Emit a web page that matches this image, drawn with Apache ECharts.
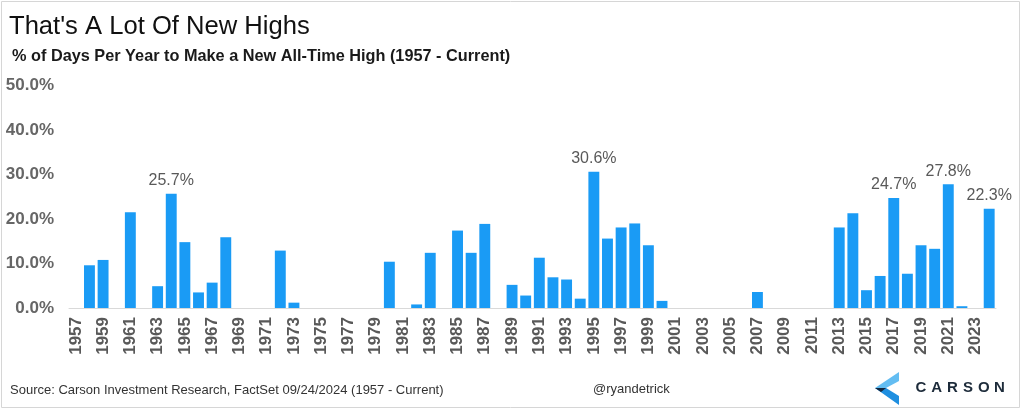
<!DOCTYPE html>
<html>
<head>
<meta charset="utf-8">
<title>That's A Lot Of New Highs</title>
<script src="https://cdn.jsdelivr.net/npm/echarts@6/dist/echarts.min.js"></script>
<style>
  html, body { margin: 0; padding: 0; background: #fff; }
  #chart { width: 1024px; height: 410px; }
</style>
</head>
<body>
<div id="chart"></div>
<script>
// years 1957 - 2024
var years = [];
for (var y = 1957; y <= 2024; y++) years.push(String(y));

// % of trading days at a new all-time high
var pctHighs = [
  0, 9.6, 10.8, 0, 21.5, 0, 4.9, 25.7, 14.8, 3.5,      // 1957-1966
  5.7, 15.9, 0, 0, 0, 12.9, 1.2, 0, 0, 0,              // 1967-1976
  0, 0, 0, 10.4, 0, 0.8, 12.4, 0, 17.4, 12.4,          // 1977-1986
  18.9, 0, 5.2, 2.8, 11.3, 6.9, 6.4, 2.1, 30.6, 15.6,  // 1987-1996
  18.1, 19.0, 14.1, 1.6, 0, 0, 0, 0, 0, 0,             // 1997-2006
  3.6, 0, 0, 0, 0, 0, 18.1, 21.3, 4.0, 7.2,            // 2007-2016
  24.7, 7.7, 14.1, 13.3, 27.8, 0.4, 0, 22.3            // 2017-2024
];

// years that carry a value label
var labelledYears = ['1964', '1995', '2017', '2021', '2024'];

var dom = document.getElementById('chart');
var myChart = echarts.init(dom);

var barData = pctHighs.map(function(v, i) {
  var item = { value: v };
  if (labelledYears.indexOf(years[i]) >= 0) {
    item.label = { show: true };
  }
  return item;
});

// carson logo letters
var logoLetters = 'CARSON'.split('').map(function(ch, i) {
  return {
    type: 'text',
    x: 921 + i * 15.7,
    y: 388,
    style: {
      text: ch,
      fill: '#1d2b3a',
      font: '600 15px "Liberation Sans", Arial, sans-serif',
      textAlign: 'center',
      textVerticalAlign: 'middle'
    }
  };
});

var option = {
  animation: false,
  backgroundColor: '#ffffff',
  grid: {
    left: 69,
    right: 28,
    top: 85.5,
    bottom: 102,
    containLabel: false
  },
  xAxis: {
    type: 'category',
    data: years,
    axisTick: { show: false },
    axisLine: { lineStyle: { color: '#d9d9d9', width: 1 } },
    axisLabel: {
      interval: 1,
      rotate: 90,
      margin: 9,
      color: '#595959',
      fontWeight: 'bold',
      fontSize: 17,
      fontFamily: '"Liberation Sans", Arial, sans-serif'
    }
  },
  yAxis: {
    type: 'value',
    min: 0,
    max: 50,
    interval: 10,
    splitLine: { show: false },
    axisLine: { show: false },
    axisTick: { show: false },
    axisLabel: {
      margin: 15,
      color: '#666666',
      fontWeight: 'bold',
      fontSize: 17,
      fontFamily: '"Liberation Sans", Arial, sans-serif',
      formatter: function(v) { return v.toFixed(1) + '%'; }
    }
  },
  series: [{
    type: 'bar',
    data: barData,
    barCategoryGap: '20%',
    itemStyle: { color: '#1a9bf5' },
    label: {
      show: false,
      position: 'top',
      distance: 5,
      color: '#595959',
      fontSize: 16,
      fontFamily: '"Liberation Sans", Arial, sans-serif',
      formatter: function(p) { return p.value.toFixed(1) + '%'; }
    }
  }],
  graphic: [
    {
      type: 'rect',
      shape: { x: 1.5, y: 1.5, width: 1018, height: 406 },
      style: { fill: 'none', stroke: '#d6d6d6', lineWidth: 1 },
      silent: true
    },
    {
      type: 'text',
      x: 9,
      y: 27,
      style: {
        text: "That's A Lot Of New Highs",
        fill: '#111111',
        font: '25.6px "Liberation Sans", Arial, sans-serif',
        textVerticalAlign: 'middle'
      }
    },
    {
      type: 'text',
      x: 12,
      y: 57,
      style: {
        text: '% of Days Per Year to Make a New All-Time High (1957 - Current)',
        fill: '#1a1a1a',
        font: 'bold 16.3px "Liberation Sans", Arial, sans-serif',
        textVerticalAlign: 'middle'
      }
    },
    {
      type: 'text',
      x: 10,
      y: 390,
      style: {
        text: 'Source: Carson Investment Research, FactSet 09/24/2024 (1957 - Current)',
        fill: '#333333',
        font: '13px "Liberation Sans", Arial, sans-serif',
        textVerticalAlign: 'middle'
      }
    },
    {
      type: 'text',
      x: 593,
      y: 389,
      style: {
        text: '@ryandetrick',
        fill: '#333333',
        font: '13px "Liberation Sans", Arial, sans-serif',
        textVerticalAlign: 'middle'
      }
    },
    // logo chevron
    {
      type: 'polygon',
      shape: { points: [[899, 372], [899, 381], [886, 388], [875, 388]] },
      style: { fill: '#63bdf2' }
    },
    {
      type: 'polygon',
      shape: { points: [[875, 388], [886, 388], [899, 396], [899, 405]] },
      style: { fill: '#1f8fe0' }
    },
    {
      type: 'polygon',
      shape: { points: [[875, 388], [886, 388], [881, 392]] },
      style: { fill: '#14263d' }
    }
  ].concat(logoLetters)
};

if (option && typeof option === 'object') {
  myChart.setOption(option, true);
}

window.addEventListener('resize', function() {
  myChart.resize();
});
</script>
</body>
</html>
